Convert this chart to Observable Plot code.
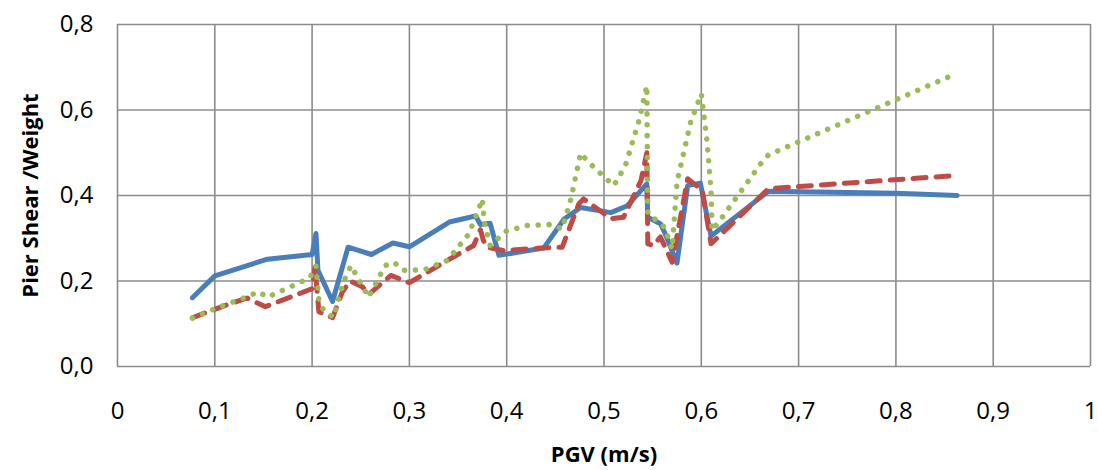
<!DOCTYPE html>
<html>
<head>
<meta charset="utf-8">
<script src="https://cdn.jsdelivr.net/npm/d3@7"></script>
<script src="https://cdn.jsdelivr.net/npm/@observablehq/plot@0.6"></script>
<style>
  html, body { margin: 0; padding: 0; background: #fff; }
  svg { display: block; }
</style>
</head>
<body>
<div id="chart"></div>
<script>
// ---- Data ----
const xTicks = [0, 0.1, 0.2, 0.3, 0.4, 0.5, 0.6, 0.7, 0.8, 0.9, 1];
const yTicks = [0, 0.2, 0.4, 0.6, 0.8];

// Series 1 (solid blue)
const blueX = [0.077, 0.100, 0.154, 0.200, 0.204, 0.206, 0.221, 0.237, 0.261, 0.283, 0.300, 0.341, 0.368, 0.373, 0.383, 0.392, 0.438, 0.459, 0.476, 0.507, 0.524, 0.544, 0.545, 0.558, 0.563, 0.575, 0.586, 0.599, 0.610, 0.669, 0.800, 0.863];
const blueY = [0.161, 0.212, 0.251, 0.262, 0.311, 0.225, 0.152, 0.279, 0.262, 0.289, 0.280, 0.338, 0.352, 0.332, 0.335, 0.260, 0.277, 0.345, 0.372, 0.360, 0.376, 0.427, 0.349, 0.334, 0.310, 0.242, 0.423, 0.429, 0.305, 0.410, 0.405, 0.400];

// Series 2 (dashed red)
const redX = [0.077, 0.111, 0.133, 0.152, 0.200, 0.203, 0.207, 0.221, 0.231, 0.239, 0.252, 0.258, 0.281, 0.300, 0.342, 0.366, 0.373, 0.376, 0.380, 0.397, 0.435, 0.457, 0.474, 0.479, 0.507, 0.520, 0.538, 0.544, 0.545, 0.551, 0.558, 0.570, 0.586, 0.601, 0.610, 0.669, 0.863];
const redY = [0.114, 0.143, 0.160, 0.140, 0.182, 0.232, 0.128, 0.114, 0.174, 0.200, 0.186, 0.168, 0.213, 0.196, 0.252, 0.283, 0.320, 0.295, 0.279, 0.271, 0.277, 0.279, 0.380, 0.392, 0.346, 0.349, 0.435, 0.500, 0.287, 0.283, 0.303, 0.244, 0.439, 0.412, 0.287, 0.416, 0.447];

// Series 3 (dotted green)
const greenX = [0.077, 0.100, 0.133, 0.145, 0.154, 0.188, 0.198, 0.204, 0.207, 0.212, 0.222, 0.232, 0.240, 0.252, 0.258, 0.275, 0.284, 0.294, 0.315, 0.339, 0.361, 0.370, 0.375, 0.377, 0.383, 0.399, 0.421, 0.445, 0.457, 0.466, 0.476, 0.484, 0.510, 0.522, 0.536, 0.544, 0.545, 0.554, 0.562, 0.570, 0.575, 0.589, 0.600, 0.606, 0.610, 0.611, 0.618, 0.661, 0.669, 0.862];
const greenY = [0.113, 0.135, 0.163, 0.175, 0.162, 0.197, 0.209, 0.235, 0.154, 0.131, 0.115, 0.197, 0.236, 0.187, 0.162, 0.236, 0.244, 0.225, 0.226, 0.248, 0.310, 0.361, 0.392, 0.338, 0.283, 0.316, 0.330, 0.332, 0.322, 0.392, 0.499, 0.478, 0.423, 0.470, 0.575, 0.657, 0.357, 0.342, 0.326, 0.275, 0.431, 0.571, 0.638, 0.525, 0.412, 0.318, 0.338, 0.474, 0.495, 0.685];

const toRows = (xs, ys) => xs.map((x, i) => ({pgv: x, v: ys[i]}));
const blue = toRows(blueX, blueY);
const red = toRows(redX, redY);
const green = toRows(greenX, greenY);

const comma = d => String(d).replace(".", ",");
const gridColor = "#8c8c8c";

const chart = Plot.plot({
  width: 1098,
  height: 470,
  marginLeft: 117,
  marginRight: 8,
  marginTop: 24,
  marginBottom: 104,
  style: {fontFamily: "'Open Sans', sans-serif", fontSize: "24px", color: "#000", background: "#fff", overflow: "visible"},
  x: {domain: [0, 1]},
  y: {domain: [0, 0.8]},
  marks: [
    Plot.gridX(xTicks, {stroke: gridColor, strokeOpacity: 1, strokeWidth: 1.6}),
    Plot.gridY(yTicks, {stroke: gridColor, strokeOpacity: 1, strokeWidth: 1.6}),
    Plot.axisX(xTicks, {tickSize: 0, tickPadding: 35, tickFormat: d => d === 0 ? "0" : d === 1 ? "1" : comma(d.toFixed(1)), label: null, fontSize: 24}),
    Plot.axisY(yTicks, {tickSize: 0, tickPadding: 24, tickFormat: d => comma(d.toFixed(1)), label: null, fontSize: 24}),
    Plot.line(blue, {x: "pgv", y: "v", stroke: "#4a7ebb", strokeWidth: 5, strokeLinejoin: "round"}),
    Plot.line(red, {x: "pgv", y: "v", stroke: "#be4b48", strokeWidth: 5, strokeDasharray: "13,10", strokeLinecap: "round", strokeLinejoin: "round"}),
    Plot.line(green, {x: "pgv", y: "v", stroke: "#9bbb59", strokeWidth: 5.5, strokeDasharray: "0.1,10.8", strokeLinecap: "round", strokeLinejoin: "round"}),
    Plot.text(["PGV (m/s)"], {frameAnchor: "bottom", dy: 88, text: d => d, fontWeight: "bold", fontSize: 22, textAnchor: "middle", lineAnchor: "middle"}),
    Plot.text(["Pier Shear /Weight"], {frameAnchor: "left", dx: -87, text: d => d, fontWeight: "bold", fontSize: 22, rotate: -90, textAnchor: "middle", lineAnchor: "middle"})
  ]
});
document.getElementById("chart").appendChild(chart);
</script>
</body>
</html>
